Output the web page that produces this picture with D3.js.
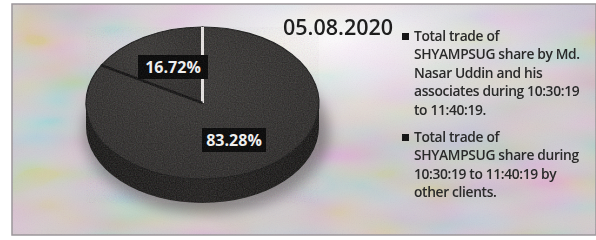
<!DOCTYPE html>
<html>
<head>
<meta charset="utf-8">
<script src="https://cdn.jsdelivr.net/npm/d3@7"></script>
<style>
  body { margin: 0; background: #fff; }
  svg { display: block; }
</style>
</head>
<body>
<div id="chart"></div>
<script>
// chart data
var title = '05.08.2020';
var values = [16.72, 83.28];
var valueLabels = ['16.72%', '83.28%'];
var legendLines = [
    ['Total trade of', 'SHYAMPSUG share by Md.', 'Nasar Uddin and his', 'associates during 10:30:19', 'to 11:40:19.'],
    ['Total trade of', 'SHYAMPSUG share during', '10:30:19 to 11:40:19 by', 'other clients.']
];

// svg container
var width = 596;
var height = 240;

// pie geometry (tilted 3d look)
var cx = 202.5, cy = 103, rx = 116.5, ry = 76, depth = 24;

var svg = d3.select('#chart').append('svg')
    .attr('width', width)
    .attr('height', height);

var defs = svg.append('defs');

// scanned-paper grain
var grain = defs.append('filter').attr('id', 'grain')
    .attr('x', 0).attr('y', 0).attr('width', '100%').attr('height', '100%');
grain.append('feTurbulence')
    .attr('type', 'fractalNoise').attr('baseFrequency', 0.85)
    .attr('numOctaves', 2).attr('seed', 7);
grain.append('feColorMatrix').attr('type', 'saturate').attr('values', 0.6);

// pastel colour blotches of the scan
var tint = defs.append('filter').attr('id', 'tint')
    .attr('x', 0).attr('y', 0).attr('width', '100%').attr('height', '100%');
tint.append('feTurbulence')
    .attr('type', 'fractalNoise').attr('baseFrequency', '0.012 0.03')
    .attr('numOctaves', 2).attr('seed', 3);
tint.append('feColorMatrix').attr('type', 'saturate').attr('values', 1.8);

var blur = defs.append('filter').attr('id', 'blur')
    .attr('x', '-30%').attr('y', '-30%').attr('width', '160%').attr('height', '160%');
blur.append('feGaussianBlur').attr('stdDeviation', 7);

var soft = defs.append('filter').attr('id', 'soft');
soft.append('feGaussianBlur').attr('stdDeviation', 0.35);

var glow = defs.append('radialGradient').attr('id', 'glow')
    .attr('cx', 0.55).attr('cy', 0.15).attr('r', 0.45);
glow.append('stop').attr('offset', 0).attr('stop-color', '#ffffff').attr('stop-opacity', 0.95);
glow.append('stop').attr('offset', 0.6).attr('stop-color', '#ffffff').attr('stop-opacity', 0.3);
glow.append('stop').attr('offset', 1).attr('stop-color', '#ffffff').attr('stop-opacity', 0);

var sideGrad = defs.append('linearGradient').attr('id', 'side')
    .attr('x1', 0).attr('x2', 1).attr('y1', 0).attr('y2', 0);
sideGrad.append('stop').attr('offset', 0).attr('stop-color', '#100f0e');
sideGrad.append('stop').attr('offset', 0.5).attr('stop-color', '#191716');
sideGrad.append('stop').attr('offset', 1).attr('stop-color', '#0f0e0d');

var topGrad = defs.append('radialGradient').attr('id', 'top')
    .attr('cx', 0.45).attr('cy', 0.35).attr('r', 0.7);
topGrad.append('stop').attr('offset', 0).attr('stop-color', '#32302e');
topGrad.append('stop').attr('offset', 1).attr('stop-color', '#242221');

// background of the scanned chart area
var frame = svg.append('g');
frame.append('rect')
    .attr('x', 12).attr('y', 4).attr('width', width - 12).attr('height', 231)
    .attr('fill', '#d3cdd1');
frame.append('rect')
    .attr('x', 12).attr('y', 4).attr('width', width - 12).attr('height', 231)
    .attr('filter', 'url(#tint)').attr('opacity', 0.32);
frame.append('rect')
    .attr('x', 12).attr('y', 4).attr('width', width - 12).attr('height', 231)
    .attr('fill', 'url(#glow)');
frame.append('rect')
    .attr('x', 12).attr('y', 4).attr('width', width - 12).attr('height', 231)
    .attr('fill', 'none').attr('stroke', '#9a9599').attr('stroke-width', 1.5);

// soft shadow under the pie
svg.append('ellipse')
    .attr('cx', cx + 4).attr('cy', cy + depth + 6)
    .attr('rx', rx + 6).attr('ry', ry + 4)
    .attr('fill', '#6a6668').attr('opacity', 0.75)
    .attr('filter', 'url(#blur)');

// pie layout: first slice ends at 12 o'clock
var a0 = values[0] / d3.sum(values) * 2 * Math.PI;
var pie = d3.pie().sort(null)
    .startAngle(-a0).endAngle(2 * Math.PI - a0);
var slices = pie(values);

var arc = d3.arc().innerRadius(0).outerRadius(1);

var pieGroup = svg.append('g');

// side wall of the disc
pieGroup.append('path')
    .attr('d', `M${cx - rx},${cy} L${cx - rx},${cy + depth} A${rx},${ry} 0 0 0 ${cx + rx},${cy + depth} L${cx + rx},${cy} Z`)
    .attr('fill', 'url(#side)');

// top faces
pieGroup.selectAll('path.slice')
    .data(slices)
    .enter()
    .append('path')
    .attr('class', 'slice')
    .attr('transform', `translate(${cx},${cy}) scale(${rx},${ry})`)
    .attr('d', arc)
    .attr('fill', 'url(#top)')
    .attr('stroke', '#111')
    .attr('stroke-width', 1.2)
    .attr('vector-effect', 'non-scaling-stroke');

// light seam at 12 o'clock, dark seam on the other edge
function rimPoint(a) {
    return [cx + rx * Math.sin(a), cy - ry * Math.cos(a)];
}
var seam = rimPoint(slices[0].endAngle);
pieGroup.append('line')
    .attr('x1', cx).attr('y1', cy)
    .attr('x2', seam[0]).attr('y2', seam[1])
    .attr('stroke', '#e8e4e2').attr('stroke-width', 3);
var seam2 = rimPoint(slices[0].startAngle);
pieGroup.append('line')
    .attr('x1', cx).attr('y1', cy)
    .attr('x2', seam2[0]).attr('y2', seam2[1])
    .attr('stroke', '#0a0909').attr('stroke-width', 2.5);

// grain over the pie
pieGroup.append('ellipse')
    .attr('cx', cx).attr('cy', cy + depth / 2)
    .attr('rx', rx).attr('ry', ry + depth / 2)
    .attr('filter', 'url(#grain)')
    .attr('opacity', 0.14);

// value labels in black boxes
var labelPos = [[173, 67], [234, 140]];
var labels = svg.selectAll('g.vlabel')
    .data(slices)
    .enter()
    .append('g')
    .attr('class', 'vlabel')
    .attr('transform', (d, i) => `translate(${labelPos[i][0]},${labelPos[i][1]})`);
labels.append('rect')
    .attr('x', (d, i) => i === 0 ? -35 : -32)
    .attr('y', -12)
    .attr('width', (d, i) => i === 0 ? 70 : 64)
    .attr('height', 24)
    .attr('fill', '#060606');
labels.append('text')
    .attr('text-anchor', 'middle')
    .attr('dy', '0.36em')
    .style('font-family', 'Open Sans')
    .style('font-weight', 'bold')
    .style('font-size', '16px')
    .style('fill', '#f2f2f2')
    .text((d, i) => valueLabels[i]);

// title
svg.append('text')
    .attr('x', 283).attr('y', 35)
    .attr('filter', 'url(#soft)')
    .style('font-family', 'Open Sans')
    .style('font-weight', 600)
    .style('font-size', '21.5px')
    .style('fill', '#141414')
    .text(title);

// legend
var legendTop = [41, 142];
var lineStep = 18.4;
var legend = svg.selectAll('g.legend')
    .data(legendLines)
    .enter()
    .append('g')
    .attr('class', 'legend')
    .attr('transform', (d, i) => `translate(402,${legendTop[i]})`);
legend.append('rect')
    .attr('x', 0).attr('y', -8)
    .attr('width', 7).attr('height', 7)
    .attr('fill', '#0e0e0e');
legend.append('text')
    .attr('filter', 'url(#soft)')
    .style('font-family', 'Open Sans')
    .style('font-size', '13.8px')
    .style('font-weight', 600)
    .style('letter-spacing', '-0.35px')
    .style('fill', '#222')
    .selectAll('tspan')
    .data(d => d)
    .enter()
    .append('tspan')
    .attr('x', 12)
    .attr('y', (d, i) => i * lineStep)
    .text(d => d);

// overall scan grain
svg.append('rect')
    .attr('x', 12).attr('y', 4).attr('width', width - 12).attr('height', 231)
    .attr('filter', 'url(#grain)')
    .attr('opacity', 0.1);
</script>
</body>
</html>
